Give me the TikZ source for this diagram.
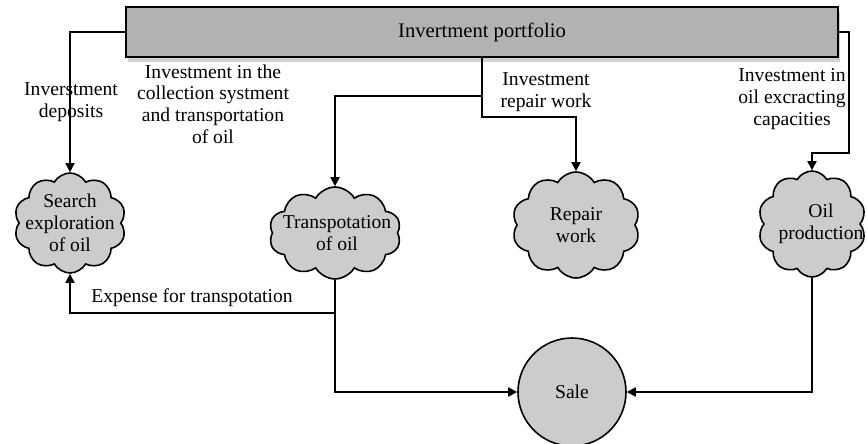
\documentclass[tikz,border=0pt]{standalone}
\usepackage{fontspec}
\setmainfont{Liberation Serif}
\usetikzlibrary{shapes.symbols,shadows,arrows.meta}
\definecolor{barfill}{HTML}{B2B2B2}
\definecolor{cloudfill}{HTML}{CCCCCC}
\begin{document}
\begin{tikzpicture}[x=0.5pt, y=-0.5pt, font=\fontsize{9.8}{10.9}\selectfont,
    link/.style={line width=0.9pt, -{Triangle[length=4.5pt,width=4.5pt]}},
    puff/.style={cloud, cloud puffs=10, cloud puff arc=120, cloud ignores aspect,
        draw, line width=0.8pt, fill=cloudfill, inner sep=0pt},
    txt/.style={align=center, inner sep=0pt}]
    \useasboundingbox (0,0) rectangle (868,444);

    \node[draw, line width=0.9pt, fill=barfill, minimum width=356pt, minimum height=25pt,
        font=\fontsize{10.3}{12}\selectfont,
        drop shadow={shadow xshift=1pt, shadow yshift=-2.5pt, fill=gray!35, opacity=1}] (bar) at (482,32) {Invertment portfolio};

    \node[puff, minimum width=56pt, minimum height=50pt, label={[txt]center:Search\\exploration\\of oil}] (search) at (70,223) {};
    \node[puff, minimum width=66pt, minimum height=46pt, label={[txt, xshift=1pt]center:Transpotation\\of oil}] (transp) at (335,233) {};
    \node[puff, minimum width=64pt, minimum height=53pt, label={[txt]center:Repair\\work}] (repair) at (576,225) {};
    \node[puff, minimum width=54pt, minimum height=53pt, label={[txt, xshift=4.5pt]center:Oil\\production}] (oil) at (812,224) {};
    \node[circle, draw, line width=0.8pt, fill=cloudfill, minimum size=54pt, inner sep=0pt] (sale) at (572,392) {Sale};

    \node[txt] (deplbl) at (71,102) {Inverstment\\deposits};
    \node[txt] (translbl) at (213,104) {Investment in the\\collection systment\\and transportation\\of oil};
    \node[txt] (replbl) at (546,92) {Investment\\repair work};
    \node[txt] (oillbl) at (792,99) {Investment in\\oil excracting\\capacities};
    \node[txt] (explbl) at (192,298) {Expense for transpotation};

    % investments
    \coordinate (fork) at (482,96);
    \draw[link] (bar.west) -| (search.north);
    \draw[link] (bar.south) -- ++(0,59) -| (repair.north);
    \draw[link] (fork) -| (transp.north);
    \draw[link] (bar.east) -- ++(10,0) -- ++(0,121) -| (oil.north);

    % sales and expenses
    \draw[link] (transp.south) |- (sale.west);
    \draw[link] (transp.south |- 0,313) -| (search.south);
    \draw[link] (oil.south) |- (sale.east);
\end{tikzpicture}
\end{document}
